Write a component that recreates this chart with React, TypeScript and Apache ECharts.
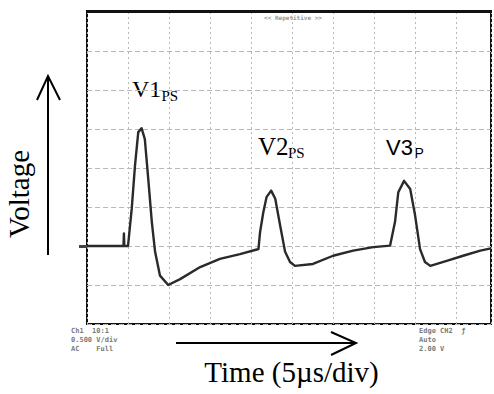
import React, { useEffect, useRef } from "react";
import * as echarts from "echarts";

// Oscilloscope trace, in divisions (time: 5 µs/div, voltage: arbitrary div)
const timeDiv = [0, 0.89, 0.9, 0.91, 1.0, 1.09, 1.17, 1.25, 1.33, 1.41, 1.5, 1.58, 1.66, 1.78, 1.98, 2.27, 2.76, 3.24, 3.73, 4.14, 4.18, 4.22, 4.3, 4.38, 4.49, 4.59, 4.71, 4.83, 4.95, 5.07, 5.51, 6.0, 6.49, 6.98, 7.39, 7.51, 7.59, 7.73, 7.88, 8.0, 8.12, 8.24, 8.37, 8.77, 9.17, 9.59, 9.85];
const voltageDiv = [0, 0, 0.32, 0, 0, 0.95, 2.06, 2.92, 3.02, 2.74, 1.64, 0.62, -0.15, -0.76, -1.0, -0.85, -0.54, -0.33, -0.21, -0.09, -0.08, 0.36, 0.87, 1.26, 1.42, 1.21, 0.52, -0.15, -0.41, -0.51, -0.46, -0.25, -0.12, -0.03, 0.01, 0.62, 1.38, 1.67, 1.46, 0.78, -0.08, -0.41, -0.51, -0.38, -0.25, -0.12, -0.06];

const xRange = [0, 9.85];
const yRange = [-2, 6];

const peakLabels = ["V1", "V2", "V3"];
const peakSubs = ["PS", "PS", "P"];
const headerText = "<< Repetitive >>";
const leftInfo = ["Ch1  10:1", "0.500 V/div", "AC    Full"];
const rightInfo = ["Edge CH2  \u0192", "Auto", "2.00 V"];
const yTitle = "Voltage";
const xTitle = "Time (5\u00b5s/div)";

export default function App() {
  const ref = useRef<HTMLDivElement>(null);
  useEffect(() => {
    if (!ref.current) return;
    const chart = echarts.init(ref.current, undefined, { renderer: "svg" });
    const serif = "'Liberation Serif', 'Times New Roman', serif";
    const sans = "'Liberation Sans', Arial, sans-serif";
    const mono = "'DejaVu Sans Mono', monospace";
    const small = (text: string, x: number, y: number) => ({
      type: "text",
      x,
      y,
      style: { text, fill: "#7a7a7a", font: `bold 7px ${mono}`, verticalAlign: "middle" },
    });
    chart.setOption({
      animation: false,
      backgroundColor: "#ffffff",
      grid: {
        left: 87,
        top: 12,
        width: 404,
        height: 312,
        show: true,
        borderColor: "#111",
        borderWidth: 2,
        backgroundColor: "#fff",
      },
      xAxis: {
        type: "value",
        min: xRange[0],
        max: xRange[1],
        interval: 1,
        axisLine: { show: false },
        axisTick: { show: false },
        axisLabel: { show: false },
        splitLine: { show: true, lineStyle: { color: "#b8b8b8", width: 1, type: [2, 3] } },
      },
      yAxis: {
        type: "value",
        min: yRange[0],
        max: yRange[1],
        interval: 1,
        axisLine: { show: false },
        axisTick: { show: false },
        axisLabel: { show: false },
        splitLine: { show: true, lineStyle: { color: "#b8b8b8", width: 1, type: [5, 3] } },
      },
      series: [
        {
          type: "line",
          data: timeDiv.map((t, i) => [t, voltageDiv[i]]),
          showSymbol: false,
          smooth: false,
          lineStyle: { color: "#2a2a2a", width: 2.4, join: "round" },
          z: 5,
        },
      ],
      graphic: [
        { type: "rect", shape: { x: 86, y: 10, width: 406, height: 3 }, style: { fill: "#111" }, z: 10 },
        { type: "rect", shape: { x: 79, y: 245, width: 8, height: 3 }, style: { fill: "#444" } },
        { type: "text", x: 293, y: 17, style: { text: headerText, fill: "#9a9a9a", font: `bold 6px ${mono}`, align: "center", verticalAlign: "middle" } },
        { type: "text", x: 132, y: 88.5, style: { text: peakLabels[0], fill: "#000", font: `24px ${serif}`, verticalAlign: "middle" } },
        { type: "text", x: 161.5, y: 95.5, style: { text: peakSubs[0], fill: "#000", font: `15px ${serif}`, verticalAlign: "middle" } },
        { type: "text", x: 258, y: 146, style: { text: peakLabels[1], fill: "#000", font: `25px ${serif}`, verticalAlign: "middle" } },
        { type: "text", x: 288, y: 153, style: { text: peakSubs[1], fill: "#000", font: `15px ${serif}`, verticalAlign: "middle" } },
        { type: "text", x: 386, y: 147.5, style: { text: peakLabels[2], fill: "#000", font: `22px ${sans}`, verticalAlign: "middle" } },
        { type: "text", x: 414.5, y: 153, style: { text: peakSubs[2], fill: "#000", font: `14px ${sans}`, verticalAlign: "middle" } },
        { type: "text", x: 19, y: 194, rotation: Math.PI / 2, style: { text: yTitle, fill: "#000", font: `29px ${serif}`, align: "center", verticalAlign: "middle" } },
        { type: "text", x: 291.5, y: 372, style: { text: xTitle, fill: "#000", font: `29px ${serif}`, align: "center", verticalAlign: "middle" } },
        { type: "line", shape: { x1: 48, y1: 255, x2: 48, y2: 77 }, style: { stroke: "#000", lineWidth: 2 } },
        { type: "polyline", shape: { points: [[37, 100], [48, 76], [60, 100]] }, style: { stroke: "#000", lineWidth: 2, fill: null } },
        { type: "line", shape: { x1: 176, y1: 343, x2: 355, y2: 343 }, style: { stroke: "#000", lineWidth: 2 } },
        { type: "polyline", shape: { points: [[331, 332], [356, 343], [331, 355]] }, style: { stroke: "#000", lineWidth: 2, fill: null } },
        small(leftInfo[0], 71, 331),
        small(leftInfo[1], 71, 340),
        small(leftInfo[2], 71, 349),
        small(rightInfo[0], 419, 331),
        small(rightInfo[1], 419, 340),
        small(rightInfo[2], 419, 349),
      ],
    });
    return () => chart.dispose();
  }, []);
  return <div ref={ref} style={{ position: "fixed", left: 0, top: 0, width: 494, height: 394 }} />;
}
